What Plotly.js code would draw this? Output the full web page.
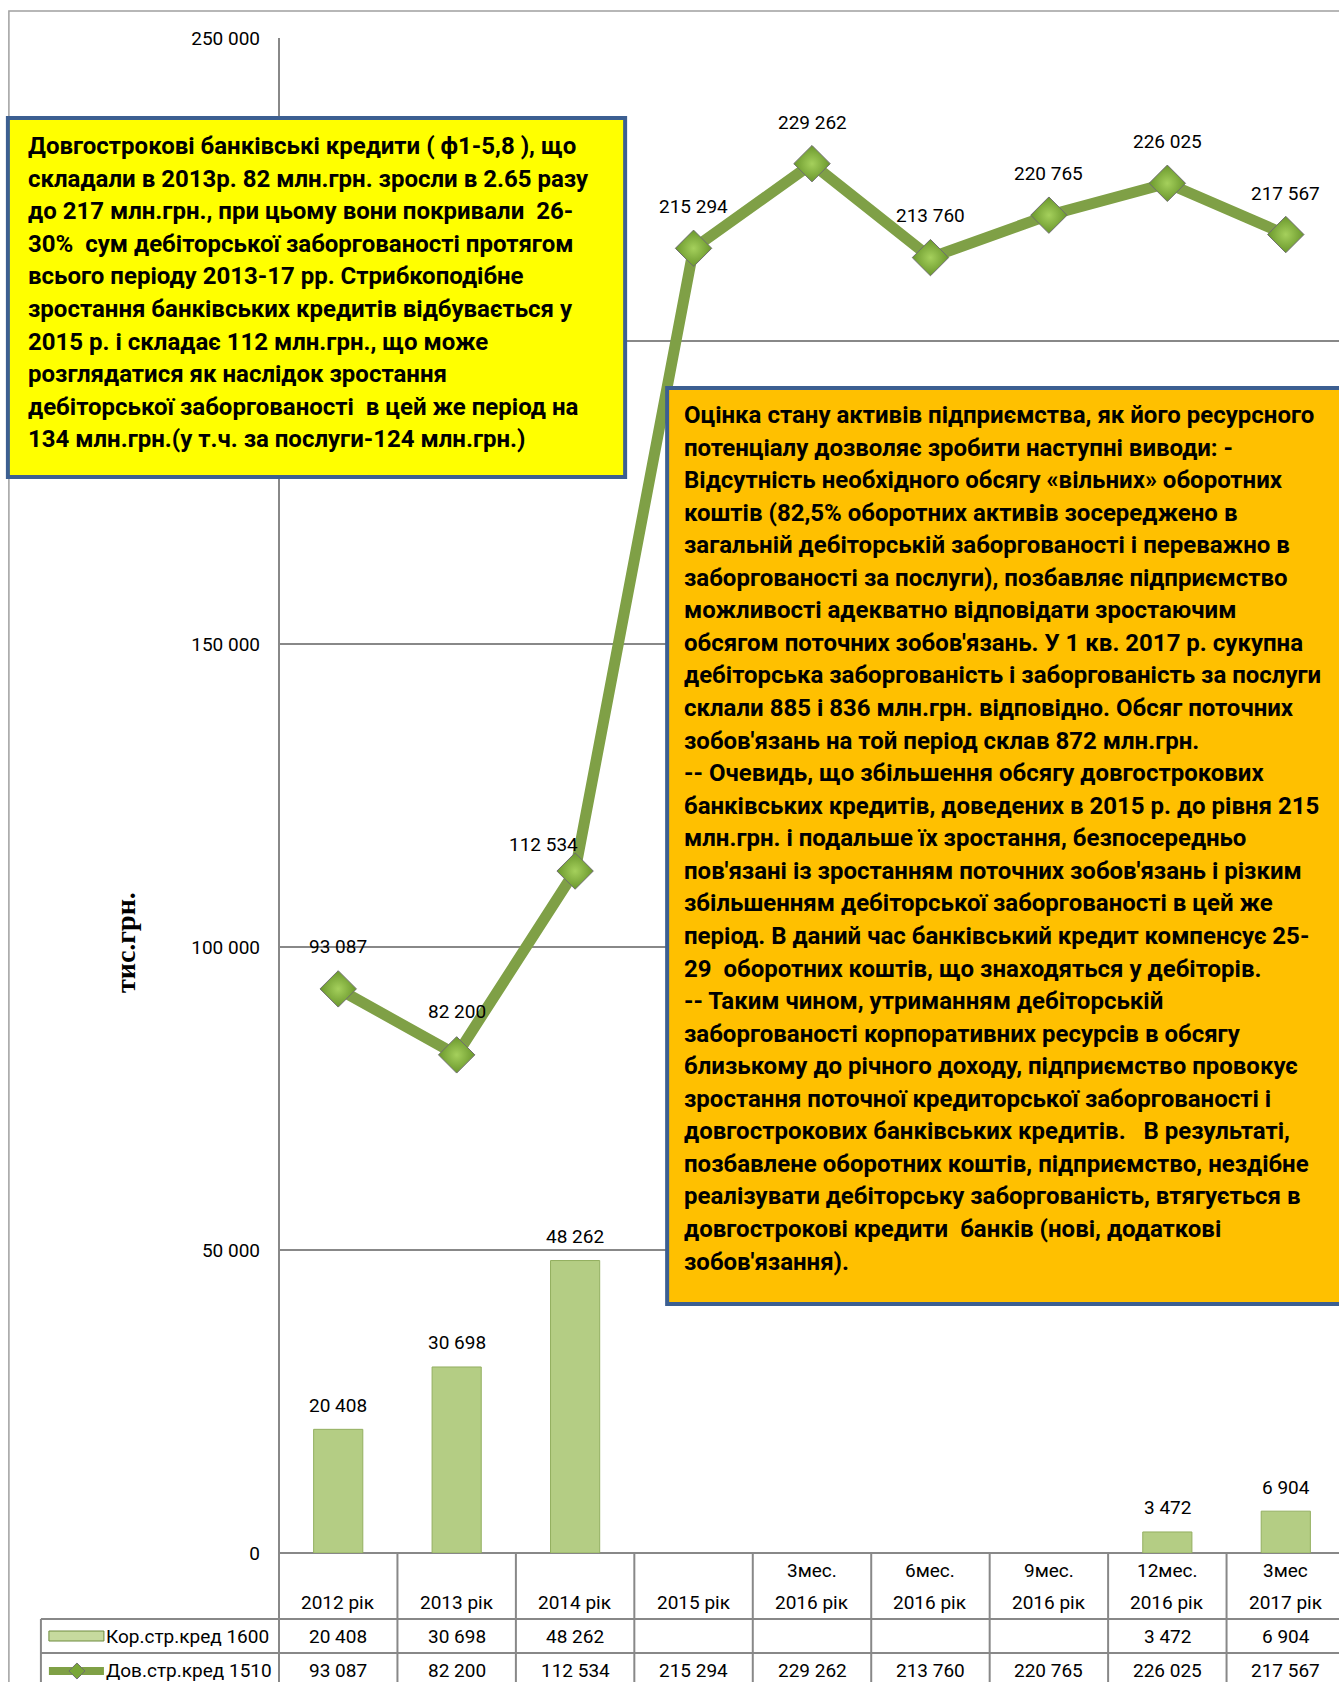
<!DOCTYPE html>
<html>
<head>
<meta charset="utf-8">
<script src="https://cdn.plot.ly/plotly-3.0.1.min.js"></script>
<style>
html, body { margin: 0; padding: 0; overflow: hidden; background: #ffffff; }
#chart { width: 1360px; height: 1682px; }
</style>
</head>
<body>
<div id="chart"></div>
<script>
// ---------------- data ----------------
const periodLabels = ['', '', '', '', '3мес.', '6мес.', '9мес.', '12мес.', '3мес'];
const yearLabels = ['2012 рік', '2013 рік', '2014 рік', '2015 рік', '2016 рік', '2016 рік', '2016 рік', '2016 рік', '2017 рік'];
const categories = yearLabels.map((y, i) => periodLabels[i] ? periodLabels[i] + ' ' + y : y);
const shortTermCredit = [20408, 30698, 48262, null, null, null, null, 3472, 6904];
const longTermCredit = [93087, 82200, 112534, 215294, 229262, 213760, 220765, 226025, 217567];
const seriesNames = ['Кор.стр.кред 1600', 'Дов.стр.кред 1510'];
const yAxisTitle = 'тис.грн.';
const yTickVals = [0, 50000, 100000, 150000, 200000, 250000];
const yTickHidden = [200000]; // label hidden behind the yellow note box in the original

const yellowLines = [
  'Довгострокові банківські кредити ( ф1-5,8 ), що',
  'складали в 2013р. 82 млн.грн. зросли в 2.65 разу',
  'до 217 млн.грн., при цьому вони покривали  26-',
  '30%  сум дебіторської заборгованості протягом',
  'всього періоду 2013-17 рр. Стрибкоподібне',
  'зростання банківських кредитів відбувається у',
  '2015 р. і складає 112 млн.грн., що може',
  'розглядатися як наслідок зростання',
  'дебіторської заборгованості  в цей же період на',
  '134 млн.грн.(у т.ч. за послуги-124 млн.грн.)'
];
const orangeLines = [
  'Оцінка стану активів підприємства, як його ресурсного',
  'потенціалу дозволяє зробити наступні виводи: -',
  'Відсутність необхідного обсягу «вільних» оборотних',
  'коштів (82,5% оборотних активів зосереджено в',
  'загальній дебіторській заборгованості і переважно в',
  'заборгованості за послуги), позбавляє підприємство',
  'можливості адекватно відповідати зростаючим',
  "обсягом поточних зобов'язань. У 1 кв. 2017 р. сукупна",
  'дебіторська заборгованість і заборгованість за послуги',
  'склали 885 і 836 млн.грн. відповідно. Обсяг поточних',
  "зобов'язань на той період склав 872 млн.грн.",
  '-- Очевидь, що збільшення обсягу довгострокових',
  'банківських кредитів, доведених в 2015 р. до рівня 215',
  'млн.грн. і подальше їх зростання, безпосередньо',
  "пов'язані із зростанням поточних зобов'язань і різким",
  'збільшенням дебіторської заборгованості в цей же',
  'період. В даний час банківський кредит компенсує 25-',
  '29  оборотних коштів, що знаходяться у дебіторів.',
  '-- Таким чином, утриманням дебіторській',
  'заборгованості корпоративних ресурсів в обсягу',
  'близькому до річного доходу, підприємство провокує',
  'зростання поточної кредиторської заборгованості і',
  'довгострокових банківських кредитів.   В результаті,',
  'позбавлене оборотних коштів, підприємство, нездібне',
  'реалізувати дебіторську заборгованість, втягується в',
  'довгострокові кредити  банків (нові, додаткові',
  "зобов'язання)."
];

// ---------------- geometry helpers ----------------
const W = 1360, H = 1682;
const ML = 279, MR = W - 1344.6, MT = 38, MB = H - 1553;
const PW = W - ML - MR, PH = H - MT - MB;
const xp = X => (X - ML) / PW;
const yp = Y => (H - MB - Y) / PH;
const fmt = v => String(v).replace(/\B(?=(\d{3})+(?!\d))/g, ' ');

const NUM_FONT = 'Roboto, "Noto Sans", sans-serif';
const BOX_FONT = { family: 'Roboto, sans-serif', size: 24, color: '#000', weight: 700 };
const GRID = '#888888';
const BORDER_BLUE = '#3C5F91';
const LINE_GREEN = '#7FA046';

// line label offsets (pixel placement of the value labels)
const lineLabelDx = [0, 0, -32, 0, 0, 0, 0, 0, 0];
const lineLabelDy = [42, 43, 27, 42, 41, 42, 42, 42, 41];

const traces = [
  {
    type: 'bar',
    name: seriesNames[0],
    x: categories,
    y: shortTermCredit,
    marker: { color: '#B4CD84', line: { color: '#93AF60', width: 1 } },
    hoverinfo: 'skip',
    showlegend: false
  },
  {
    type: 'scatter',
    mode: 'lines+markers',
    name: seriesNames[1],
    x: categories,
    y: longTermCredit,
    line: { color: LINE_GREEN, width: 11 },
    marker: {
      symbol: 'diamond', size: 28, color: '#6A972C',
      gradient: { type: 'radial', color: '#A5D05C' },
      line: { color: '#6E6E6E', width: 1 }
    },
    hoverinfo: 'skip',
    showlegend: false
  }
];

const annotations = [];
const shapes = [];
const cellFont = { family: NUM_FONT, size: 19, color: '#000' };

// value labels
longTermCredit.forEach((v, i) => {
  annotations.push({
    x: categories[i], y: v, xref: 'x', yref: 'y', text: fmt(v), showarrow: false,
    xanchor: 'center', yanchor: 'middle',
    xshift: lineLabelDx[i], yshift: lineLabelDy[i], font: cellFont
  });
});
shortTermCredit.forEach((v, i) => {
  if (v == null) return;
  annotations.push({
    x: categories[i], y: v, xref: 'x', yref: 'y', text: fmt(v), showarrow: false,
    xanchor: 'center', yanchor: 'middle', yshift: 24, font: cellFont
  });
});

// data table: header and rows
const cell = (c, Y, text) => ({ x: c, y: yp(Y), xref: 'x', yref: 'paper', text: text, showarrow: false,
  xanchor: 'center', yanchor: 'middle', font: cellFont });
categories.forEach((c, i) => {
  if (periodLabels[i]) annotations.push(cell(c, 1570, periodLabels[i]));
  annotations.push(cell(c, 1602, yearLabels[i]));
  if (shortTermCredit[i] != null) annotations.push(cell(c, 1636, fmt(shortTermCredit[i])));
  annotations.push(cell(c, 1671, fmt(longTermCredit[i])));
});
// legend texts in table
[[seriesNames[0], 1636], [seriesNames[1], 1671]].forEach(([t, Y]) => {
  annotations.push({ x: xp(104), y: yp(Y), xref: 'paper', yref: 'paper', xanchor: 'left', yanchor: 'middle',
    text: t, showarrow: false, font: cellFont });
});

// y-axis title
annotations.push({ x: xp(126), y: yp(942), xref: 'paper', yref: 'paper', xanchor: 'center', yanchor: 'middle',
  text: yAxisTitle, textangle: -90, showarrow: false,
  font: { family: '"Liberation Serif", "Times New Roman", serif', size: 28, color: '#000', weight: 700 } });

// text boxes
yellowLines.forEach((t, i) => {
  annotations.push({ x: xp(26), y: yp(146 + i * 32.6), xref: 'paper', yref: 'paper', xanchor: 'left', yanchor: 'middle',
    text: t, showarrow: false, font: BOX_FONT });
});
orangeLines.forEach((t, i) => {
  annotations.push({ x: xp(682), y: yp(415 + i * 32.56), xref: 'paper', yref: 'paper', xanchor: 'left', yanchor: 'middle',
    text: t, showarrow: false, font: BOX_FONT });
});

// outer chart border
shapes.push({ type: 'rect', xref: 'paper', yref: 'paper', x0: xp(9), x1: xp(1400), y0: yp(11), y1: yp(1750),
  line: { color: '#A0A0A0', width: 1.5 }, fillcolor: 'rgba(0,0,0,0)', layer: 'below' });

// y axis line through table
shapes.push({ type: 'line', xref: 'paper', yref: 'paper', x0: 0, x1: 0, y0: yp(38), y1: yp(1700),
  line: { color: GRID, width: 2 }, layer: 'below' });
// table horizontal lines
shapes.push({ type: 'line', xref: 'paper', yref: 'paper', x0: 0, x1: 1, y0: 0, y1: 0, line: { color: GRID, width: 2 }, layer: 'below' });
[1619, 1653].forEach(Y => shapes.push({ type: 'line', xref: 'paper', yref: 'paper', x0: xp(41), x1: 1.02, y0: yp(Y), y1: yp(Y),
  line: { color: GRID, width: 2 }, layer: 'below' }));
shapes.push({ type: 'line', xref: 'paper', yref: 'paper', x0: xp(41), x1: xp(41), y0: yp(1619), y1: yp(1700),
  line: { color: GRID, width: 2 }, layer: 'below' });
// table vertical lines at category boundaries
for (let k = 1; k < categories.length; k++) {
  const xv = k / categories.length;
  shapes.push({ type: 'line', xref: 'paper', yref: 'paper', x0: xv, x1: xv, y0: 0, y1: yp(1700),
    line: { color: GRID, width: 2 }, layer: 'below' });
}
// legend keys
shapes.push({ type: 'rect', xref: 'paper', yref: 'paper', x0: xp(49), x1: xp(104), y0: yp(1631), y1: yp(1641),
  fillcolor: '#C6DA9E', line: { color: '#6F8B3F', width: 1 }, layer: 'above' });
shapes.push({ type: 'line', xref: 'paper', yref: 'paper', x0: xp(49), x1: xp(104), y0: yp(1671), y1: yp(1671),
  line: { color: LINE_GREEN, width: 8 }, layer: 'above' });
shapes.push({ type: 'path', xref: 'paper', yref: 'paper',
  path: `M${xp(77)},${yp(1663)} L${xp(85)},${yp(1671)} L${xp(77)},${yp(1679)} L${xp(69)},${yp(1671)} Z`,
  fillcolor: '#79A637', line: { color: '#6E6E6E', width: 1 }, layer: 'above' });

// annotation boxes (cover gridlines)
shapes.push({ type: 'rect', xref: 'paper', yref: 'paper', x0: xp(8), x1: xp(625), y0: yp(118), y1: yp(477),
  fillcolor: '#FFFF00', line: { color: BORDER_BLUE, width: 4 }, layer: 'above' });
shapes.push({ type: 'rect', xref: 'paper', yref: 'paper', x0: xp(667), x1: xp(1420), y0: yp(388), y1: yp(1304),
  fillcolor: '#FFC000', line: { color: BORDER_BLUE, width: 4 }, layer: 'above' });

const layout = {
  width: W, height: H,
  margin: { l: ML, r: MR, t: MT, b: MB, pad: 0 },
  paper_bgcolor: '#ffffff',
  plot_bgcolor: 'rgba(0,0,0,0)',
  separators: ', ',
  showlegend: false,
  bargap: 0.585,
  xaxis: { type: 'category', range: [-0.5, categories.length - 0.5], showticklabels: false, showgrid: false,
    zeroline: false, showline: false, ticks: '', fixedrange: true },
  yaxis: { range: [0, 250000], tickmode: 'array', tickvals: yTickVals,
    ticktext: yTickVals.map(v => yTickHidden.includes(v) ? '' : fmt(v)),
    showgrid: true, gridcolor: GRID, gridwidth: 2,
    zeroline: false, showline: false, ticks: '', ticklabelstandoff: 18,
    tickfont: { family: NUM_FONT, size: 19, color: '#000' }, fixedrange: true },
  annotations: annotations,
  shapes: shapes
};

Plotly.newPlot('chart', traces, layout, { staticPlot: true, displayModeBar: false });
</script>
</body>
</html>
